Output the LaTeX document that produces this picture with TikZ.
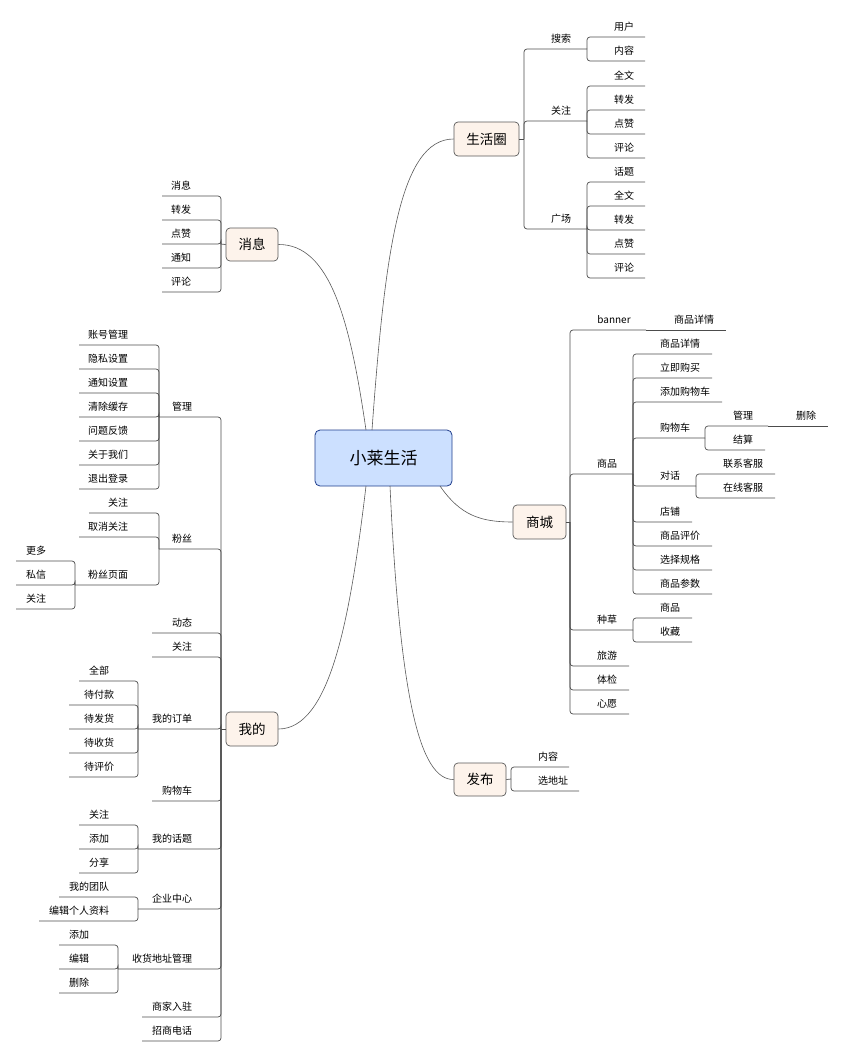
\documentclass[tikz,border=0pt]{standalone}
\usepackage{fontspec}
\setmainfont{Noto Sans CJK SC}
\definecolor{cfill}{RGB}{204,224,255}
\definecolor{cdraw}{RGB}{30,60,140}
\definecolor{mfill}{RGB}{253,243,235}
\begin{document}
\begin{tikzpicture}[x=1pt,y=-1pt,
  ln/.style={draw=black!70,line width=0.7pt,rounded corners=3pt},
  lbl/.style={inner sep=0pt,font=\fontsize{10}{12}\selectfont},
  mainbox/.style={draw=black!65,fill=mfill,rounded corners=4pt,line width=0.7pt,font=\fontsize{13.5}{16}\selectfont,inner sep=0pt},
  cbox/.style={draw=cdraw,fill=cfill,rounded corners=5pt,line width=0.8pt,font=\fontsize{17}{20}\selectfont,inner sep=0pt},
  curve/.style={draw=black!65,line width=0.6pt}]
\useasboundingbox (0,0) rectangle (844,1057);
\newcommand\mitem[6]{\coordinate (#1-l) at (#2,#4);\coordinate (#1-r) at (#3,#4);\node[lbl] (#1) at (#5,#4-10) {#6};}
\newcommand\bR[2]{\draw[ln] (#1-r) |- (#2-r);}
\newcommand\bL[2]{\draw[ln] (#1-l) |- (#2-l);}
% center
\node[cbox,minimum width=137pt,minimum height=56pt] (c) at (383.5,458) {小莱生活};
\node[mainbox,minimum width=65pt,minimum height=34pt] (shq) at (486.5,139) {生活圈};
\node[mainbox,minimum width=52pt,minimum height=33pt] (xx) at (252,244.5) {消息};
\node[mainbox,minimum width=52pt,minimum height=34pt] (wd) at (252,729) {我的};
\node[mainbox,minimum width=53pt,minimum height=34pt] (sc) at (539.5,522) {商城};
\node[mainbox,minimum width=52pt,minimum height=33pt] (fb) at (480,779.5) {发布};
\coordinate (cs1) at (372,430);\coordinate (cs2) at (366,430);
\coordinate (cs3) at (366,486);\coordinate (cs4) at (390,486);\coordinate (cs5) at (440,486);
\draw[curve] (cs1) .. controls (385,250) and (400,139) .. (shq.west);
\draw[curve] (cs2) .. controls (350,320) and (330,244) .. (xx.east);
\draw[curve] (cs3) .. controls (350,620) and (330,729) .. (wd.east);
\draw[curve] (cs4) .. controls (400,700) and (420,780) .. (fb.west);
\draw[curve] (cs5) .. controls (460,515) and (480,522) .. (sc.west);
% box connectors
\coordinate (shq-r) at (524,139);\draw[ln] (shq.east) -- (shq-r);
\coordinate (xx-l) at (221,244);\draw[ln] (xx.west) -- (xx-l);
\coordinate (wd-l) at (221,729);\draw[ln] (wd.west) -- (wd-l);
\coordinate (sc-r) at (570,522);\draw[ln] (sc.east) -- (sc-r);
\coordinate (fb-r) at (511,779);\draw[ln] (fb.east) -- (fb-r);
% 生活圈
\mitem{ss}{524}{587}{49}{561}{搜索}
\mitem{ss1}{587}{645}{37}{624}{用户}
\mitem{ss2}{587}{645}{61}{624}{内容}
\mitem{gz}{524}{587}{121}{561}{关注}
\mitem{gz1}{587}{645}{86}{624}{全文}
\mitem{gz2}{587}{645}{110}{624}{转发}
\mitem{gz3}{587}{645}{134}{624}{点赞}
\mitem{gz4}{587}{645}{158}{624}{评论}
\mitem{gc}{524}{587}{229}{561}{广场}
\mitem{gc1}{587}{645}{182}{624}{话题}
\mitem{gc2}{587}{645}{206}{624}{全文}
\mitem{gc3}{587}{645}{230}{624}{转发}
\mitem{gc4}{587}{645}{254}{624}{点赞}
\mitem{gc5}{587}{645}{278}{624}{评论}
\foreach \c in {ss,gz,gc} {\bR{shq}{\c}}
\foreach \c in {ss1,ss2} {\bR{ss}{\c}}
\foreach \c in {gz1,gz2,gz3,gz4} {\bR{gz}{\c}}
\foreach \c in {gc1,gc2,gc3,gc4,gc5} {\bR{gc}{\c}}
% 消息
\mitem{x1}{162}{221}{196}{181}{消息}
\mitem{x2}{162}{221}{220}{181}{转发}
\mitem{x3}{162}{221}{244}{181}{点赞}
\mitem{x4}{162}{221}{268}{181}{通知}
\mitem{x5}{162}{221}{292}{181}{评论}
\foreach \c in {x1,x2,x3,x4,x5} {\bL{xx}{\c}}
% 我的
\mitem{gl}{159}{221}{417}{182}{管理}
\mitem{gl1}{79}{159}{345}{108}{账号管理}
\mitem{gl2}{79}{159}{369}{108}{隐私设置}
\mitem{gl3}{79}{159}{393}{108}{通知设置}
\mitem{gl4}{79}{159}{417}{108}{清除缓存}
\mitem{gl5}{79}{159}{441}{108}{问题反馈}
\mitem{gl6}{79}{159}{465}{108}{关于我们}
\mitem{gl7}{79}{159}{489}{108}{退出登录}
\mitem{fs}{159}{221}{549}{182}{粉丝}
\mitem{fs1}{89}{159}{513}{118}{关注}
\mitem{fs2}{79}{159}{537}{108}{取消关注}
\mitem{fs3}{75}{159}{585}{108}{粉丝页面}
\mitem{fp1}{16}{75}{561}{36}{更多}
\mitem{fp2}{16}{75}{585}{36}{私信}
\mitem{fp3}{16}{75}{609}{36}{关注}
\mitem{dt}{152}{221}{633}{182}{动态}
\mitem{gz5}{152}{221}{657}{182}{关注}
\mitem{dd}{138}{221}{729}{172}{我的订单}
\mitem{dd1}{79}{138}{681}{99}{全部}
\mitem{dd2}{69}{138}{705}{99}{待付款}
\mitem{dd3}{69}{138}{729}{99}{待发货}
\mitem{dd4}{69}{138}{753}{99}{待收货}
\mitem{dd5}{69}{138}{777}{99}{待评价}
\mitem{gwc}{152}{221}{801}{177}{购物车}
\mitem{ht}{138}{221}{849}{172}{我的话题}
\mitem{ht1}{79}{138}{825}{99}{关注}
\mitem{ht2}{79}{138}{849}{99}{添加}
\mitem{ht3}{79}{138}{873}{99}{分享}
\mitem{qy}{138}{221}{909}{172}{企业中心}
\mitem{qy1}{59}{138}{897}{89}{我的团队}
\mitem{qy2}{39}{138}{921}{79}{编辑个人资料}
\mitem{dz}{118}{221}{969}{162}{收货地址管理}
\mitem{dz1}{59}{118}{945}{79}{添加}
\mitem{dz2}{59}{118}{969}{79}{编辑}
\mitem{dz3}{59}{118}{993}{79}{删除}
\mitem{sj}{142}{221}{1017}{172}{商家入驻}
\mitem{zs}{142}{221}{1041}{172}{招商电话}
\foreach \c in {gl,fs,dt,gz5,dd,gwc,ht,qy,dz,sj,zs} {\bL{wd}{\c}}
\foreach \c in {gl1,gl2,gl3,gl4,gl5,gl6,gl7} {\bL{gl}{\c}}
\foreach \c in {fs1,fs2,fs3} {\bL{fs}{\c}}
\foreach \c in {fp1,fp2,fp3} {\bL{fs3}{\c}}
\foreach \c in {dd1,dd2,dd3,dd4,dd5} {\bL{dd}{\c}}
\foreach \c in {ht1,ht2,ht3} {\bL{ht}{\c}}
\foreach \c in {qy1,qy2} {\bL{qy}{\c}}
\foreach \c in {dz1,dz2,dz3} {\bL{dz}{\c}}
% 商城
\mitem{bn}{570}{646}{330}{614}{banner}
\mitem{bn1}{646}{726}{330}{694}{商品详情}
\mitem{sp}{570}{633}{474}{607}{商品}
\mitem{sp1}{633}{712}{354}{680}{商品详情}
\mitem{sp2}{633}{712}{378}{680}{立即购买}
\mitem{sp3}{633}{722}{402}{685}{添加购物车}
\mitem{sp4}{633}{705}{438}{675}{购物车}
\mitem{gw1}{705}{768}{426}{743}{管理}
\mitem{gw1a}{768}{828}{426}{806}{删除}
\mitem{gw2}{705}{765}{450}{743}{结算}
\mitem{sp5}{633}{696}{486}{670}{对话}
\mitem{dh1}{696}{775}{474}{743}{联系客服}
\mitem{dh2}{696}{775}{498}{743}{在线客服}
\mitem{sp6}{633}{692}{522}{670}{店铺}
\mitem{sp7}{633}{712}{546}{680}{商品评价}
\mitem{sp8}{633}{712}{570}{680}{选择规格}
\mitem{sp9}{633}{712}{594}{680}{商品参数}
\mitem{zc}{570}{633}{630}{607}{种草}
\mitem{zc1}{633}{692}{618}{670}{商品}
\mitem{zc2}{633}{692}{642}{670}{收藏}
\mitem{ly}{570}{629}{666}{607}{旅游}
\mitem{tj}{570}{629}{690}{607}{体检}
\mitem{xy}{570}{629}{714}{607}{心愿}
\foreach \c in {bn,sp,zc,ly,tj,xy} {\bR{sc}{\c}}
\draw[ln] (bn-r) -- (bn1-r);
\foreach \c in {sp1,sp2,sp3,sp4,sp5,sp6,sp7,sp8,sp9} {\bR{sp}{\c}}
\foreach \c in {gw1,gw2} {\bR{sp4}{\c}}
\draw[ln] (gw1-r) -- (gw1a-r);
\foreach \c in {dh1,dh2} {\bR{sp5}{\c}}
\foreach \c in {zc1,zc2} {\bR{zc}{\c}}
% 发布
\mitem{fb1}{511}{569}{767}{548}{内容}
\mitem{fb2}{511}{579}{791}{553}{选地址}
\foreach \c in {fb1,fb2} {\bR{fb}{\c}}
\end{tikzpicture}
\end{document}
